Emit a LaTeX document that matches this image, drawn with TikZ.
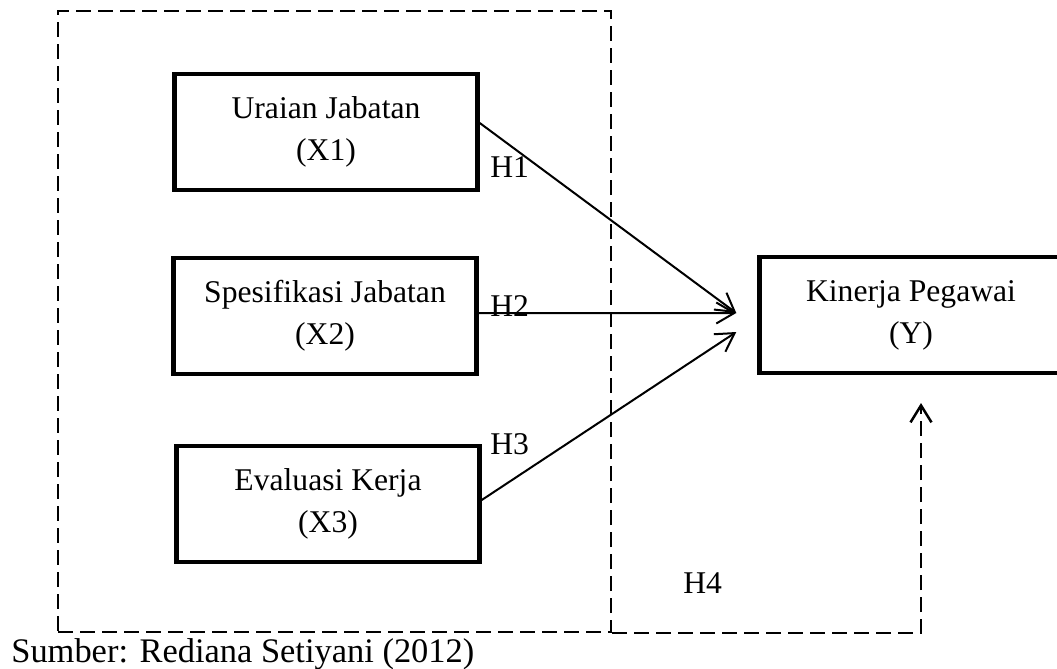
\documentclass[tikz,border=0pt]{standalone}
\usepackage{fontspec}
\setmainfont{Liberation Serif}
\usepackage{tikz}
\usetikzlibrary{arrows.meta, positioning, calc}

\begin{document}
\begin{tikzpicture}[
        varbox/.style={draw, line width=0.09cm, minimum width=6.06cm, minimum height=2.32cm,
            inner sep=0pt, align=center, font=\fontsize{18}{24}\selectfont},
        hyp/.style={line width=0.04cm, -{Straight Barb[length=0.36cm, width=0.42cm, line width=0.04cm]}},
        hlabel/.style={anchor=base west, inner sep=0pt, font=\fontsize{18}{22}\selectfont},
        grpline/.style={line width=0.045cm, dash pattern=on 0.3cm off 0.14cm},
        h4line/.style={line width=0.05cm, dash pattern=on 0.3cm off 0.14cm,
            -{Straight Barb[length=0.34cm, width=0.42cm, line width=0.05cm]}}
    ]
        \useasboundingbox (0,0) rectangle (21.14,-13.36);

        % Dashed group around the independent variables
        \node[grpline, draw, minimum width=11.06cm, minimum height=12.42cm, inner sep=0pt]
            (grp) at (6.69,-6.43) {};

        % Independent variables
        \node[varbox] (X1) at (6.52,-2.64) {Uraian Jabatan\\(X1)};
        \node[varbox] (X2) at (6.50,-6.32) {Spesifikasi Jabatan\\(X2)};
        \node[varbox] (X3) at (6.56,-10.08) {Evaluasi Kerja\\(X3)};

        % Dependent variable
        \node[varbox] (Y) at (18.22,-6.30) {Kinerja Pegawai\\(Y)};

        % Hypotheses H1 - H3
        \draw[hyp] ([yshift=0.18cm]X1.east) -- ([xshift=-0.42cm,yshift=0.04cm]Y.west);
        \draw[hyp] ([yshift=0.06cm]X2.east) -- ([xshift=-0.42cm,yshift=0.04cm]Y.west);
        \draw[hyp] ([yshift=0.08cm]X3.east) -- ([xshift=-0.42cm,yshift=-0.34cm]Y.west);
        \node[hlabel] (h1) at (9.80,-3.54) {H1};
        \node[hlabel] (h2) at (9.80,-6.32) {H2};
        \node[hlabel] (h3) at (9.80,-9.08) {H3};

        % Simultaneous effect H4
        \coordinate (h4end) at (18.42,-8.06);
        \draw[h4line] (grp.south east) -| (h4end);
        \node[hlabel] (h4) at (13.66,-11.86) {H4};

        % Source
        \node[hlabel, font=\fontsize{19.6}{22}\selectfont] (src) at (0.22,-13.24) {Sumber: Rediana Setiyani (2012)};
    \end{tikzpicture}
\end{document}
